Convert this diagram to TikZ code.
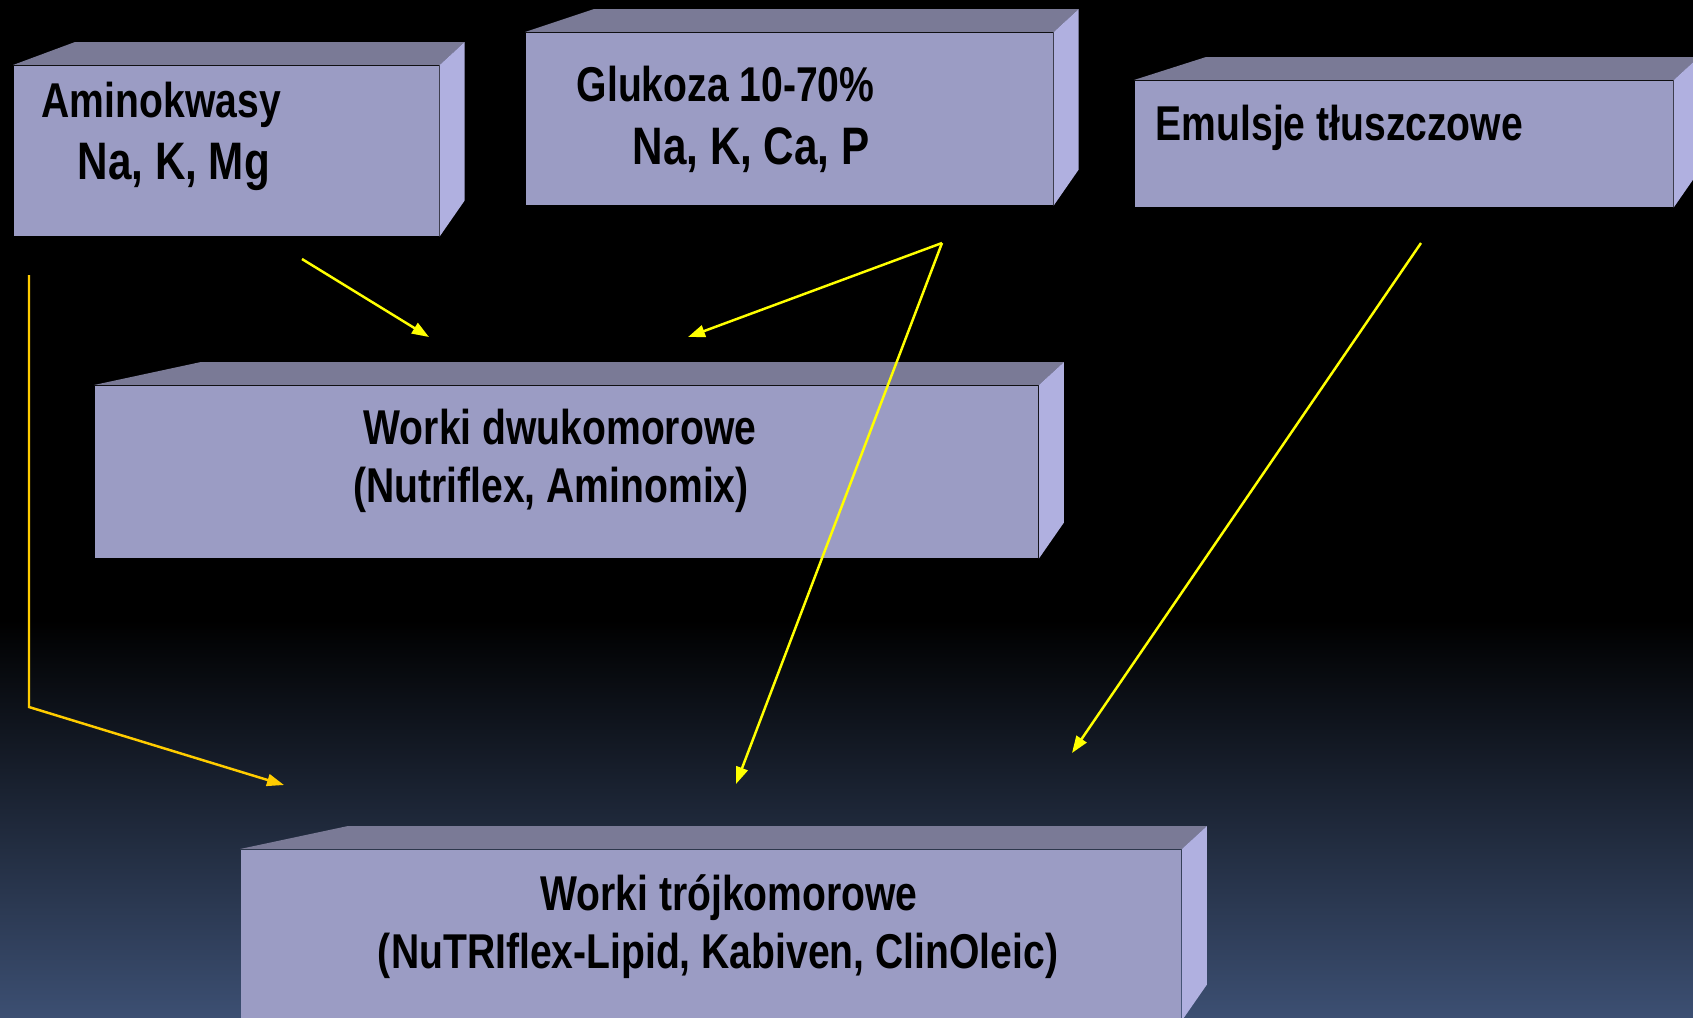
\documentclass[tikz,border=0pt]{standalone}
\usepackage{fontspec}
\setmainfont{Liberation Sans}[FakeStretch=0.8]
\usetikzlibrary{arrows.meta,calc}

\definecolor{bagfront}{RGB}{155,156,196}
\definecolor{bagtop}{RGB}{122,122,150}
\definecolor{bagside}{RGB}{176,176,224}
\definecolor{bgblue}{RGB}{60,79,114}
\definecolor{feedyellow}{RGB}{255,255,0}
\definecolor{feedgold}{RGB}{255,204,0}

\tikzset{
  bag/.style={fill=bagfront, inner sep=0pt, anchor=north west},
  bagtxt/.style={font=\fontsize{13.9}{16}\selectfont\bfseries, text=black, inner sep=0pt},
  bagbig/.style={bagtxt, font=\fontsize{15}{18}\selectfont\bfseries},
  feed/.style={draw=feedyellow, line width=0.7pt, -{Triangle[length=0.17cm,width=0.12cm]}},
}

% top and side faces of a bag: #1 node, #2 shift of the back left corner
\newcommand\bagfaces[2]{%
  \fill[bagtop] (#1.north west) -- ++(#2,-23) -- ($(#1.north east)+(25,-23)$) -- (#1.north east) -- cycle;
  \fill[bagside] (#1.north east) -- ++(25,-23) -- ($(#1.south east)+(25,-36)$) -- (#1.south east) -- cycle;
}

\begin{document}
\begin{tikzpicture}[x=0.01cm, y=-0.01cm]
  \useasboundingbox (0,0) rectangle (1693,1017);
  % background
  \fill[black] (0,0) rectangle (1693,1017);
  \shade[top color=black, bottom color=bgblue] (0,620) rectangle (1693,1017);

  % bags
  \node[bag, minimum width=4.25cm, minimum height=1.70cm] (amino) at (13,65) {};
  \bagfaces{amino}{62}
  \node[bag, minimum width=5.27cm, minimum height=1.72cm] (glc) at (525,32) {};
  \bagfaces{glc}{69}
  \node[bag, minimum width=5.38cm, minimum height=1.26cm] (emul) at (1134,80) {};
  \bagfaces{emul}{72}
  \node[bag, minimum width=9.43cm, minimum height=1.72cm] (dwu) at (94,385) {};
  \bagfaces{dwu}{107}
  \node[bag, minimum width=9.40cm, minimum height=1.70cm] (tri) at (240,849) {};
  \bagfaces{tri}{108}

  % texts
  \node[bagtxt, anchor=base west] (amino1) at (41,117) {Aminokwasy};
  \node[bagbig, anchor=base west] (amino2) at (77,179) {Na, K, Mg};
  \node[bagtxt, anchor=base west] (glc1) at (576,101) {Glukoza 10-70\%};
  \node[bagbig, anchor=base west] (glc2) at (632,164) {Na, K, Ca, P};
  \node[bagtxt, anchor=base west] (emul1) at (1155,140) {Emulsje tłuszczowe};
  \node[bagtxt, anchor=base] (dwu1) at (560,444) {Worki dwukomorowe};
  \node[bagtxt, anchor=base] (dwu2) at (551,502) {(Nutriflex, Aminomix)};
  \node[bagtxt, anchor=base] (tri1) at (729,910) {Worki trójkomorowe};
  \node[bagtxt, anchor=base] (tri2) at (718,968) {(NuTRIflex-Lipid, Kabiven, ClinOleic)};

  % connector ends
  \coordinate (aminoOut) at (302,259);
  \coordinate (dwuInA) at (429,337);
  \coordinate (glcOut) at (942,243);
  \coordinate (dwuInG) at (688,337);
  \coordinate (triInG) at (736,784);
  \coordinate (emulOut) at (1421,243);
  \coordinate (triInE) at (1072,753);
  \coordinate (aminoDown) at (29,275);
  \coordinate (aminoBend) at (29,707);
  \coordinate (triInA) at (284,785);

  % feeds
  \draw[feed] (aminoOut) -- (dwuInA);
  \draw[feed] (glcOut) -- (dwuInG);
  \draw[feed] (glcOut) -- (triInG);
  \draw[feed] (emulOut) -- (triInE);
  \draw[feed, draw=feedgold] (aminoDown) -- (aminoBend) -- (triInA);
\end{tikzpicture}
\end{document}
